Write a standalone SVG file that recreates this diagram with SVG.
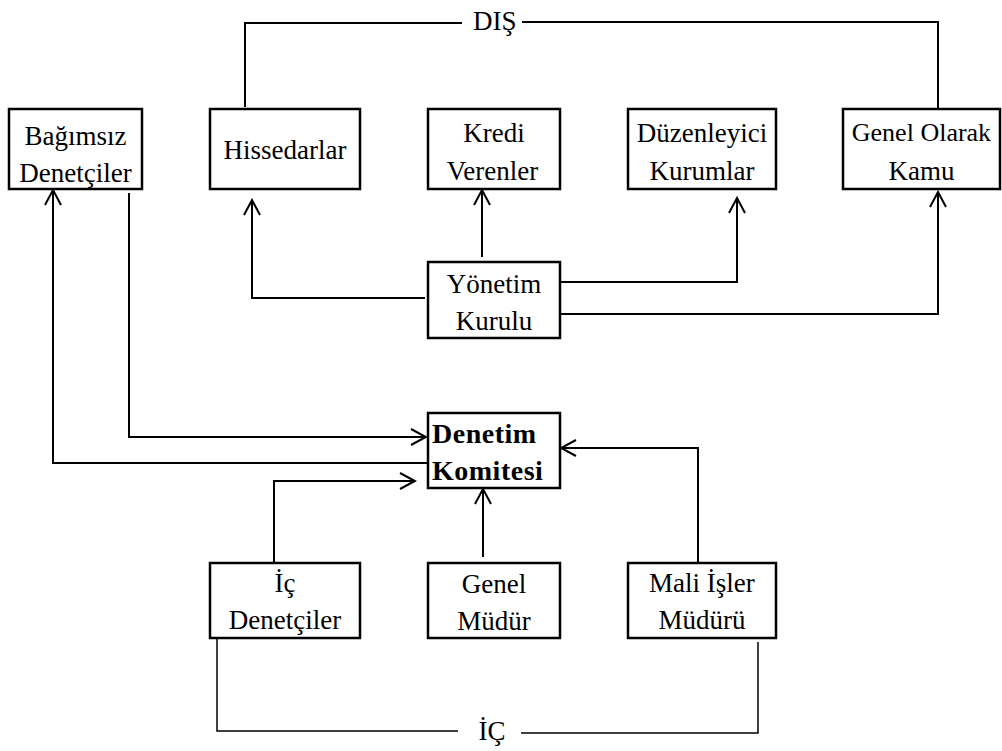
<svg xmlns="http://www.w3.org/2000/svg" width="1002" height="751" viewBox="0 0 1002 751">
<style>
.box{fill:#fff;stroke:#000;stroke-width:2.5}
.c{fill:none;stroke:#000;stroke-width:2}
.thin{fill:none;stroke:#000;stroke-width:1.5}
</style>
<defs>
<marker id="arr" viewBox="-17 -10 19 20" refX="0" refY="0" markerWidth="19" markerHeight="20" markerUnits="userSpaceOnUse" orient="auto">
<path d="M-15,-8 L0,0 L-15,8" fill="none" stroke="#000" stroke-width="2"/>
</marker>
</defs>
<rect width="1002" height="751" fill="#fff"/>
<g id="connectors">
<polyline class="c" points="245,107 245,23 462,23"/>
<polyline class="c" points="522,22 938,22 938,109"/>
<polyline class="c" points="425,298 252,298 252,200" marker-end="url(#arr)"/>
<polyline class="c" points="482,257 482,190" marker-end="url(#arr)"/>
<polyline class="c" points="560,282 737,282 737,198" marker-end="url(#arr)"/>
<polyline class="c" points="560,314 938,314 938,192" marker-end="url(#arr)"/>
<polyline class="c" points="428,463 53,463 53,190" marker-end="url(#arr)"/>
<polyline class="c" points="129,193 129,437 426,437" marker-end="url(#arr)"/>
<polyline class="c" points="698,562 698,448 561,448" marker-end="url(#arr)"/>
<polyline class="c" points="274,562 274,481 415,481" marker-end="url(#arr)"/>
<polyline class="c" points="483,557 483,489" marker-end="url(#arr)"/>
<polyline class="thin" points="217,638 217,731 458,731"/>
<polyline class="thin" points="521,733 758,733 758,642"/>
</g>
<g id="dis-label"><text x="473" y="30" font-family="Liberation Serif" font-size="27">DIŞ</text></g>
<g id="ic-label"><text x="478.5" y="740" font-family="Liberation Serif" font-size="27">İÇ</text></g>
<g id="bagimsiz">
<rect class="box" x="9" y="109" width="133" height="80"/>
<text x="24.5" y="145" font-family="Liberation Serif" font-size="27">Bağımsız</text>
<text x="19.3" y="182" font-family="Liberation Serif" font-size="27">Denetçiler</text>
</g>
<g id="hissedarlar">
<rect class="box" x="210" y="109" width="150" height="80"/>
<text x="223.5" y="159" font-family="Liberation Serif" font-size="27">Hissedarlar</text>
</g>
<g id="kredi">
<rect class="box" x="428" y="109" width="132" height="80"/>
<text x="463.3" y="142" font-family="Liberation Serif" font-size="27">Kredi</text>
<text x="446.8" y="180" font-family="Liberation Serif" font-size="27">Verenler</text>
</g>
<g id="duzenleyici">
<rect class="box" x="628" y="109" width="148" height="80"/>
<text x="636.8" y="142" font-family="Liberation Serif" font-size="27">Düzenleyici</text>
<text x="649.5" y="180" font-family="Liberation Serif" font-size="27">Kurumlar</text>
</g>
<g id="kamu">
<rect class="box" x="843" y="109" width="157" height="80"/>
<text x="851.8" y="141" font-family="Liberation Serif" font-size="26">Genel Olarak</text>
<text x="888.5" y="180" font-family="Liberation Serif" font-size="27">Kamu</text>
</g>
<g id="yonetim">
<rect class="box" x="428" y="262" width="132" height="76"/>
<text x="446.8" y="293" font-family="Liberation Serif" font-size="27">Yönetim</text>
<text x="455.8" y="330" font-family="Liberation Serif" font-size="27">Kurulu</text>
</g>
<g id="denetim">
<rect class="box" x="428" y="413" width="132" height="75"/>
<text x="432" y="443" font-family="Liberation Serif" font-size="28" font-weight="bold" letter-spacing="0.5">Denetim</text>
<text x="432" y="480" font-family="Liberation Serif" font-size="28" font-weight="bold" letter-spacing="0.5">Komitesi</text>
</g>
<g id="ic-denetciler">
<rect class="box" x="210" y="563" width="150" height="75"/>
<text x="274.5" y="592" font-family="Liberation Serif" font-size="27">İç</text>
<text x="228.8" y="629" font-family="Liberation Serif" font-size="27">Denetçiler</text>
</g>
<g id="genel-mudur">
<rect class="box" x="428" y="563" width="132" height="75"/>
<text x="461.8" y="593" font-family="Liberation Serif" font-size="27">Genel</text>
<text x="457.3" y="630" font-family="Liberation Serif" font-size="27">Müdür</text>
</g>
<g id="mali">
<rect class="box" x="628" y="563" width="148" height="75"/>
<text x="649.1" y="592" font-family="Liberation Serif" font-size="27">Mali İşler</text>
<text x="658.5" y="629" font-family="Liberation Serif" font-size="27">Müdürü</text>
</g>
</svg>
